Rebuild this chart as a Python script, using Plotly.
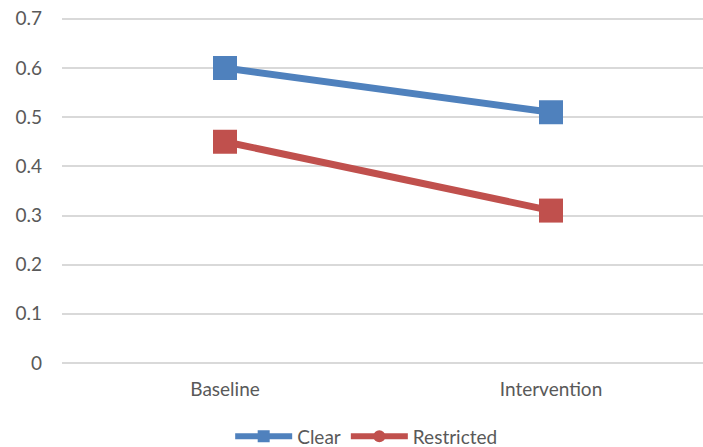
import plotly.graph_objects as go

categories = ["Baseline", "Intervention"]
clear = [0.6, 0.51]
restricted = [0.45, 0.31]
y_ticks = [0, 0.1, 0.2, 0.3, 0.4, 0.5, 0.6, 0.7]
y_labels = ["0", "0.1", "0.2", "0.3", "0.4", "0.5", "0.6", "0.7"]

blue = "#4F81BD"
red = "#C0504D"
font = dict(family="Lato, Open Sans, sans-serif", size=19, color="#595959")

fig = go.Figure()
fig.add_trace(go.Scatter(x=categories, y=clear, mode="lines+markers", showlegend=False,
                         line=dict(color=blue, width=7),
                         marker=dict(symbol="square", size=24, color=blue)))
fig.add_trace(go.Scatter(x=categories, y=restricted, mode="lines+markers", showlegend=False,
                         line=dict(color=red, width=7),
                         marker=dict(symbol="square", size=24, color=red)))
# legend entries (Excel draws a smaller symbol there)
fig.add_trace(go.Scatter(x=[None], y=[None], mode="lines+markers", name="Clear",
                         line=dict(color=blue, width=6),
                         marker=dict(symbol="square", size=12, color=blue)))
fig.add_trace(go.Scatter(x=[None], y=[None], mode="lines+markers", name="Restricted",
                         line=dict(color=red, width=6),
                         marker=dict(symbol="circle", size=12, color=red)))

# the plot area runs past the right edge of the window, as in the original
fig.update_layout(
    width=711, height=447,
    margin=dict(l=62, r=0, t=9, b=84, autoexpand=False),
    paper_bgcolor="white", plot_bgcolor="white",
    font=font,
    legend=dict(orientation="h", x=0.4687, xanchor="center", y=-0.154, yanchor="top",
                itemwidth=57, tracegroupgap=0, font=font),
)
fig.update_xaxes(type="category", range=[-0.5, 1.4908], showgrid=False,
                 showline=False, ticks="", ticklabelstandoff=13, tickfont=font)
fig.update_yaxes(range=[0, 0.72], tickvals=y_ticks, ticktext=y_labels,
                 showgrid=True, gridcolor="#D9D9D9", gridwidth=1.5,
                 zeroline=True, zerolinecolor="#D9D9D9", zerolinewidth=1.5,
                 showline=False, ticks="", ticklabelstandoff=19, tickfont=font)

# drop the default page margin so the figure sits at the window's corner
fig.write_html("out.html", config={"displayModeBar": False}, post_script=(
    "document.body.style.margin='0';"
    "document.body.style.overflow='hidden';"
    "document.documentElement.style.overflow='hidden';"))
